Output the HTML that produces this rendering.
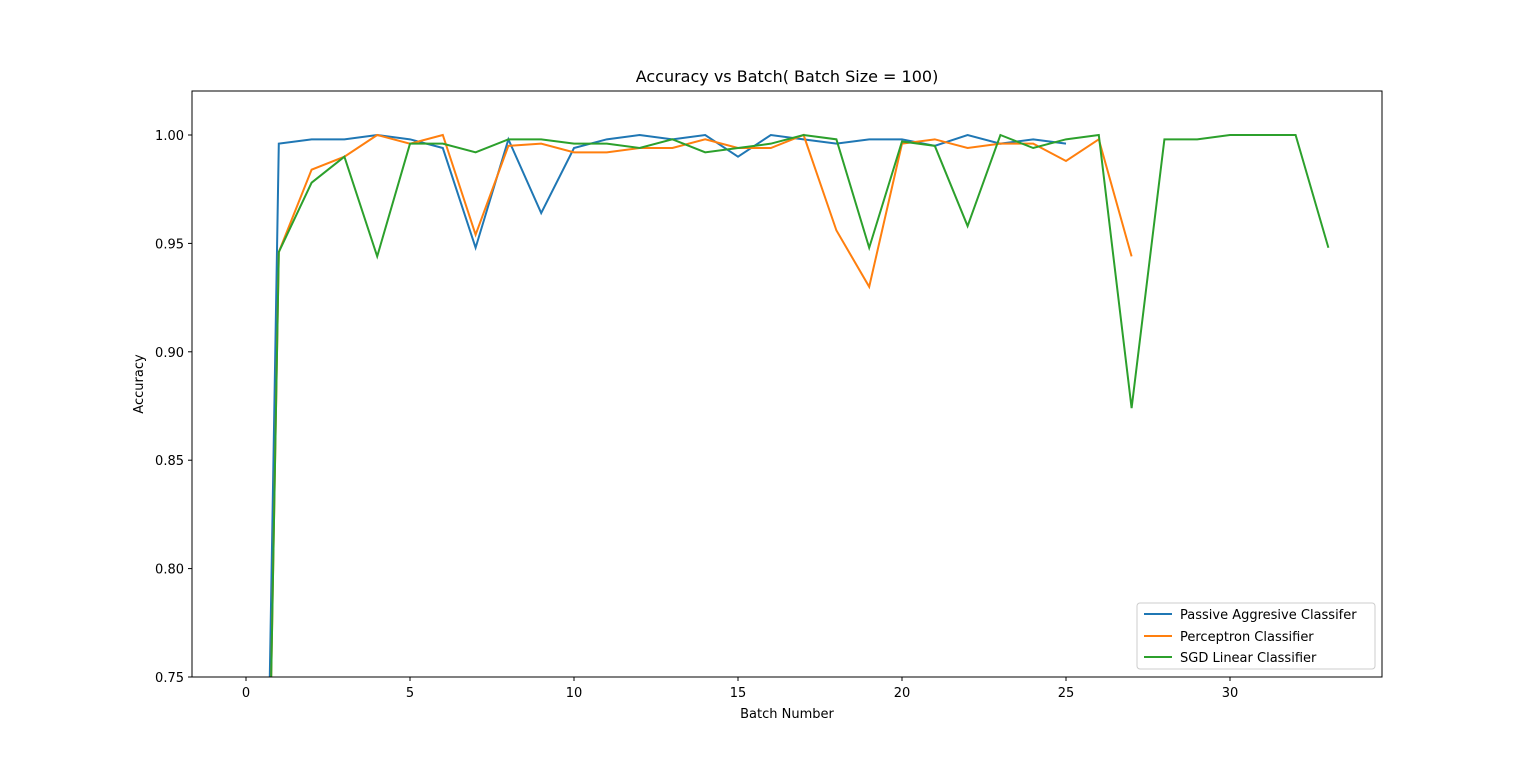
<!DOCTYPE html>
<html><head><meta charset="utf-8"><style>
html,body{margin:0;padding:0;background:#fff;width:1536px;height:761px;overflow:hidden;}
svg{display:block;}
svg text{font-family:"DejaVu Sans","Liberation Sans",sans-serif;fill:#000;}
</style></head><body>
<svg id="chart" width="1536" height="761" xmlns="http://www.w3.org/2000/svg">
<defs><clipPath id="clip"><rect x="192" y="91" width="1190" height="586"/></clipPath></defs>
<rect width="1536" height="761" fill="#fff"/>
<text x="787" y="82" font-size="16" text-anchor="middle">Accuracy vs Batch( Batch Size = 100)</text>
<g id="axes"></g>
<g id="series" clip-path="url(#clip)"></g>
<rect x="192" y="91" width="1190" height="586" fill="none" stroke="#000" stroke-width="1"/>
<text x="787" y="718" font-size="13" text-anchor="middle">Batch Number</text>
<text x="143" y="384" font-size="13" text-anchor="middle" transform="rotate(-90 143 384)">Accuracy</text>
<g>
<rect x="1137" y="603" width="238" height="66" rx="3" fill="#fff" stroke="#ccc"/>
<line x1="1144" y1="614" x2="1172" y2="614" stroke="#1f77b4" stroke-width="2"/>
<text x="1180" y="619" font-size="13">Passive Aggresive Classifer</text>
<line x1="1144" y1="636" x2="1172" y2="636" stroke="#ff7f0e" stroke-width="2"/>
<text x="1180" y="641" font-size="13">Perceptron Classifier</text>
<line x1="1144" y1="657" x2="1172" y2="657" stroke="#2ca02c" stroke-width="2"/>
<text x="1180" y="662" font-size="13">SGD Linear Classifier</text>
</g>
</svg>
<script>
const xTicks=[0,5,10,15,20,25,30];
const yTicks=[0.75,0.80,0.85,0.90,0.95,1.00];
const yTickLabels=["0.75","0.80","0.85","0.90","0.95","1.00"];
const paValues=[0.1,0.996,0.998,0.998,1.0,0.998,0.994,0.948,0.998,0.964,0.994,0.998,1.0,0.998,1.0,0.990,1.0,0.998,0.996,0.998,0.998,0.995,1.0,0.996,0.998,0.996];
const perceptronValues=[0.1,0.946,0.984,0.990,1.0,0.996,1.0,0.954,0.995,0.996,0.992,0.992,0.994,0.994,0.998,0.994,0.994,1.0,0.956,0.930,0.996,0.998,0.994,0.996,0.996,0.988,0.998,0.944];
const sgdValues=[0.1,0.946,0.978,0.990,0.944,0.996,0.996,0.992,0.998,0.998,0.996,0.996,0.994,0.998,0.992,0.994,0.996,1.0,0.998,0.948,0.997,0.995,0.958,1.0,0.994,0.998,1.0,0.874,0.998,0.998,1.0,1.0,1.0,0.948];
const NS="http://www.w3.org/2000/svg";
const Y_MIN=0.745;
function xs(v){return 246+v*32.8;}
function ys(v){return 677-(v-0.75)*2168;}
// clip polyline to y >= Y_MIN by interpolation (keeps geometry inside frame)
function clipPoints(vals){
 const pts=[];
 for(let i=0;i<vals.length;i++){
  const v=vals[i];
  if(v>=Y_MIN){
   if(i>0&&vals[i-1]<Y_MIN){const t=(Y_MIN-vals[i-1])/(v-vals[i-1]);pts.push([xs(i-1+t),ys(Y_MIN)]);}
   pts.push([xs(i),ys(v)]);
  }else if(i>0&&vals[i-1]>=Y_MIN){
   const t=(vals[i-1]-Y_MIN)/(vals[i-1]-v);pts.push([xs(i-1+t),ys(Y_MIN)]);
  }
 }
 return pts;
}
const axes=document.getElementById('axes');
xTicks.forEach(t=>{
 const l=document.createElementNS(NS,'line');
 l.setAttribute('x1',xs(t));l.setAttribute('x2',xs(t));l.setAttribute('y1',677);l.setAttribute('y2',681);l.setAttribute('stroke','#000');
 
 
 axes.appendChild(l);
 const tx=document.createElementNS(NS,'text');
 tx.setAttribute('x',xs(t));tx.setAttribute('y',697);tx.setAttribute('font-size','13');tx.setAttribute('text-anchor','middle');tx.textContent=t;
 
 
 axes.appendChild(tx);
});
yTicks.forEach((t,i)=>{
 const l=document.createElementNS(NS,'line');
 l.setAttribute('x1',188);l.setAttribute('x2',192);l.setAttribute('y1',ys(t));l.setAttribute('y2',ys(t));l.setAttribute('stroke','#000');
 
 
 axes.appendChild(l);
 const tx=document.createElementNS(NS,'text');
 tx.setAttribute('x',184);tx.setAttribute('y',ys(t)+5);tx.setAttribute('font-size','13');tx.setAttribute('text-anchor','end');tx.textContent=yTickLabels[i];
 
 
 axes.appendChild(tx);
});
const series=document.getElementById('series');
[[paValues,'#1f77b4','pa'],[perceptronValues,'#ff7f0e','perceptron'],[sgdValues,'#2ca02c','sgd']].forEach(([vals,c,n])=>{
 const p=document.createElementNS(NS,'polyline');
 p.setAttribute('points',clipPoints(vals).map(q=>q[0]+','+q[1]).join(' '));
 p.setAttribute('fill','none');p.setAttribute('stroke',c);p.setAttribute('stroke-width','2');
 
 
 series.appendChild(p);
});
</script>
</body></html>
